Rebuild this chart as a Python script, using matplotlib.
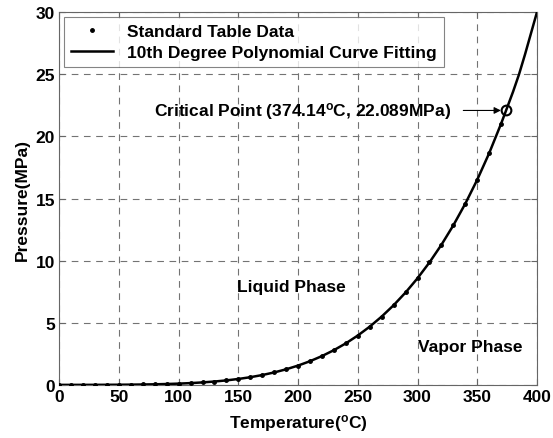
import numpy as np
import matplotlib

matplotlib.use("Agg")
import matplotlib.pyplot as plt

plt.rcParams["font.family"] = ["Liberation Sans", "DejaVu Sans"]
plt.rcParams["font.weight"] = "bold"
plt.rcParams["mathtext.default"] = "regular"

# steam table saturation data (T in degC, P in MPa)
temp_tab = [0, 10, 20, 30, 40, 50, 60, 70, 80, 90, 100, 110, 120, 130, 140,
            150, 160, 170, 180, 190, 200, 210, 220, 230, 240, 250, 260, 270,
            280, 290, 300, 310, 320, 330, 340, 350, 360, 370]
pres_tab = [0.000611, 0.001228, 0.002339, 0.004246, 0.007384, 0.01235,
            0.01994, 0.03119, 0.04739, 0.07014, 0.10135, 0.14327, 0.19853,
            0.2701, 0.3613, 0.4758, 0.6178, 0.7917, 1.0021, 1.2544, 1.5538,
            1.9062, 2.318, 2.795, 3.344, 3.973, 4.688, 5.499, 6.412, 7.436,
            8.581, 9.856, 11.274, 12.845, 14.586, 16.513, 18.651, 21.03]

# fitted curve (runs past the table to 400 degC)
temp_fit = temp_tab + [374.14, 380, 385, 390, 395, 400]
pres_fit = pres_tab + [22.089, 23.6, 25.0, 26.6, 28.3, 30.0]

crit_t, crit_p = 374.14, 22.089

fig = plt.figure(figsize=(5.53, 4.39), dpi=100)
ax = fig.add_axes([0.107, 0.121, 0.864, 0.849])

ax.plot(temp_fit, pres_fit, "k-", lw=1.8,
        label="10th Degree Polynomial Curve Fitting", zorder=3)
ax.plot(temp_tab, pres_tab, "k.", ms=5, label="Standard Table Data", zorder=4)
ax.plot([crit_t], [crit_p], "o", mfc="none", mec="k", ms=7, mew=1.5, zorder=5)

ax.annotate("", xy=(crit_t - 2, crit_p), xytext=(336, crit_p),
            arrowprops=dict(arrowstyle="-|>", color="k", lw=0.8,
                            mutation_scale=10))
ax.text(79, crit_p, "Critical Point (374.14$^{o}$C, 22.089MPa)",
        fontsize=12.5, fontweight="bold", va="center", ha="left")
ax.text(149, 7.9, "Liquid Phase", fontsize=12.5, fontweight="bold",
        va="center", ha="left")
ax.text(300, 3.05, "Vapor Phase", fontsize=12.5, fontweight="bold",
        va="center", ha="left")

ax.set_xlim(0, 400)
ax.set_ylim(0, 30)
ax.set_xticks(np.arange(0, 401, 50))
ax.set_yticks(np.arange(0, 31, 5))
ax.grid(True, color="0.45", ls=(0, (6, 5)), lw=0.8)
ax.tick_params(direction="in", top=True, right=True, length=4, color="0.4",
               labelsize=12.5, pad=3)
for lab in ax.get_xticklabels() + ax.get_yticklabels():
    lab.set_fontweight("bold")
for s in ax.spines.values():
    s.set_color("0.4")

ax.set_xlabel("Temperature($^{o}$C)", fontsize=12.5, fontweight="bold",
              labelpad=6)
ax.set_ylabel("Pressure(MPa)", fontsize=12.5, fontweight="bold", labelpad=4)

h, l = ax.get_legend_handles_labels()
leg = ax.legend(h[::-1], l[::-1], loc="upper left", fontsize=12.5,
                frameon=True, fancybox=False, edgecolor="0.4",
                borderaxespad=0.3, handlelength=2.4, borderpad=0.4,
                labelspacing=0.3)
leg.get_frame().set_linewidth(0.8)

fig.savefig("out.png", dpi=100)
